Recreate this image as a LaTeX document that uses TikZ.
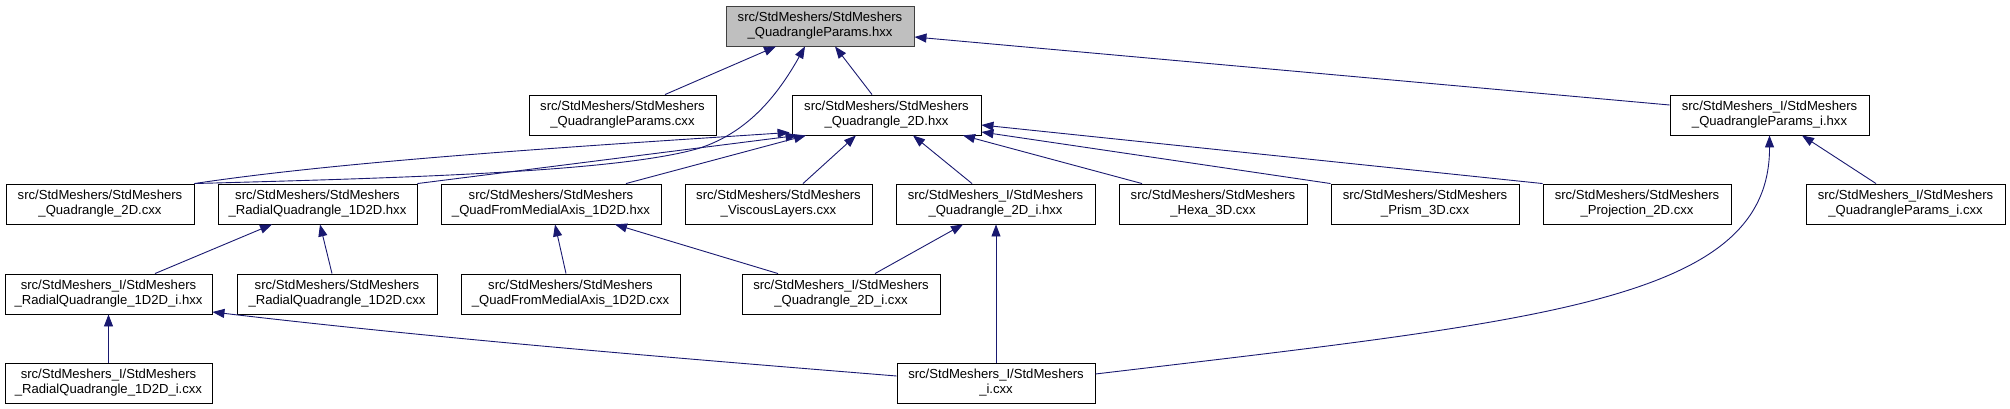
\documentclass[tikz,border=0pt]{standalone}
\usepackage{fontspec}
\setmainfont{Liberation Sans}
\usetikzlibrary{arrows.meta}
\definecolor{edgec}{HTML}{191970}
\definecolor{topfill}{HTML}{BFBFBF}
\definecolor{topdraw}{HTML}{404040}
\begin{document}
\begin{tikzpicture}[x=1pt,y=-1pt,
  box/.style={draw=black, line width=0.9pt, fill=white, minimum height=40pt, inner sep=0pt, align=center, font=\fontsize{13.1pt}{15pt}\selectfont},
  topbox/.style={box, fill=topfill, draw=topdraw},
  edge/.style={draw=edgec, line width=0.9pt, >={Triangle[length=12pt,width=9pt]}, <-}
]
\useasboundingbox (0,0) rectangle (2010,409);
% row 0
\node[topbox, minimum width=188pt] (top) at (820,26) {src/StdMeshers/StdMeshers\\\_QuadrangleParams.hxx};
% row 1
\node[box, minimum width=187pt] (qpcxx) at (622.5,115) {src/StdMeshers/StdMeshers\\\_QuadrangleParams.cxx};
\node[box, minimum width=189pt] (q2dhxx) at (886.5,115) {src/StdMeshers/StdMeshers\\\_Quadrangle\_2D.hxx};
\node[box, minimum width=199pt] (qpihxx) at (1769.5,115) {src/StdMeshers\_I/StdMeshers\\\_QuadrangleParams\_i.hxx};
% row 2
\node[box, minimum width=188pt] (q2dcxx) at (100,204) {src/StdMeshers/StdMeshers\\\_Quadrangle\_2D.cxx};
\node[box, minimum width=199pt] (rqhxx) at (317.5,204) {src/StdMeshers/StdMeshers\\\_RadialQuadrangle\_1D2D.hxx};
\node[box, minimum width=220pt] (qfmhxx) at (551,204) {src/StdMeshers/StdMeshers\\\_QuadFromMedialAxis\_1D2D.hxx};
\node[box, minimum width=187pt] (vlcxx) at (778.5,204) {src/StdMeshers/StdMeshers\\\_ViscousLayers.cxx};
\node[box, minimum width=199pt] (q2dihxx) at (995.5,204) {src/StdMeshers\_I/StdMeshers\\\_Quadrangle\_2D\_i.hxx};
\node[box, minimum width=188pt] (hexa) at (1213,204) {src/StdMeshers/StdMeshers\\\_Hexa\_3D.cxx};
\node[box, minimum width=188pt] (prism) at (1425,204) {src/StdMeshers/StdMeshers\\\_Prism\_3D.cxx};
\node[box, minimum width=188pt] (proj) at (1637,204) {src/StdMeshers/StdMeshers\\\_Projection\_2D.cxx};
\node[box, minimum width=199pt] (qpicxx) at (1905.5,204) {src/StdMeshers\_I/StdMeshers\\\_QuadrangleParams\_i.cxx};
% row 3
\node[box, minimum width=207pt] (rqihxx) at (108.5,294) {src/StdMeshers\_I/StdMeshers\\\_RadialQuadrangle\_1D2D\_i.hxx};
\node[box, minimum width=200pt] (rqcxx) at (337,294) {src/StdMeshers/StdMeshers\\\_RadialQuadrangle\_1D2D.cxx};
\node[box, minimum width=219pt] (qfmcxx) at (570.5,294) {src/StdMeshers/StdMeshers\\\_QuadFromMedialAxis\_1D2D.cxx};
\node[box, minimum width=198pt] (q2dicxx) at (841,294) {src/StdMeshers\_I/StdMeshers\\\_Quadrangle\_2D\_i.cxx};
% row 4
\node[box, minimum width=207pt] (rqicxx) at (108.5,383) {src/StdMeshers\_I/StdMeshers\\\_RadialQuadrangle\_1D2D\_i.cxx};
\node[box, minimum width=198pt] (icxx) at (996,383) {src/StdMeshers\_I/StdMeshers\\\_i.cxx};

% edges into top
\draw[edge] ([xshift=-44pt]top.south) -- ([xshift=42.5pt]qpcxx.north);
\draw[edge] ([xshift=15pt]top.south) -- ([xshift=-14.5pt]q2dhxx.north);
\draw[edge] ([yshift=-11pt]top.east) -- ([yshift=10pt]qpihxx.west);
\draw[edge] ([xshift=-15pt]top.south) .. controls (775,100) and (745,133) .. (700,148)
  .. controls (620,172) and (400,178) .. (q2dcxx.north east);
% edges into Quadrangle_2D.hxx
\draw[edge] ([xshift=-2pt,yshift=3pt]q2dhxx.south west) .. controls (600,145) and (350,160) .. (q2dcxx.north east);
\draw[edge] ([xshift=6pt]q2dhxx.south west) -- (rqhxx.north east);
\draw[edge] ([xshift=-80.5pt]q2dhxx.south) -- ([xshift=75pt]qfmhxx.north);
\draw[edge] ([xshift=-30.5pt]q2dhxx.south) -- ([xshift=24.5pt]vlcxx.north);
\draw[edge] ([xshift=26.5pt]q2dhxx.south) -- ([xshift=-23.5pt]q2dihxx.north);
\draw[edge] ([xshift=76.5pt]q2dhxx.south) -- ([xshift=-71pt]hexa.north);
\draw[edge] ([yshift=-17pt]q2dhxx.east) -- (prism.north west);
\draw[edge] ([yshift=-10pt]q2dhxx.east) -- (proj.north west);
% edges into QuadrangleParams_i.hxx
\draw[edge] ([xshift=32.5pt]qpihxx.south) -- ([xshift=-29.5pt]qpicxx.north);
\draw[edge] (qpihxx.south) .. controls (1770,300) and (1550,320) .. ([yshift=9pt]icxx.east);
% edges into RadialQuadrangle_1D2D.hxx
\draw[edge] ([xshift=-45.5pt]rqhxx.south) -- ([xshift=46.5pt]rqihxx.north);
\draw[edge] ([xshift=2.5pt]rqhxx.south) -- ([xshift=-5pt]rqcxx.north);
% edges into QuadFromMedialAxis_1D2D.hxx
\draw[edge] ([xshift=4pt]qfmhxx.south) -- ([xshift=-4.5pt]qfmcxx.north);
\draw[edge] ([xshift=64pt]qfmhxx.south) -- ([xshift=-63pt]q2dicxx.north);
% edges into Quadrangle_2D_i.hxx
\draw[edge] ([xshift=-32.5pt]q2dihxx.south) -- ([xshift=34pt]q2dicxx.north);
\draw[edge] ([xshift=0.5pt]q2dihxx.south) -- (icxx.north);
% edges into RadialQuadrangle_1D2D_i.hxx
\draw[edge] (rqihxx.south) -- (rqicxx.north);
\draw[edge] ([yshift=-18pt]rqihxx.east) .. controls (450,340) and (700,360) .. ([yshift=7pt]icxx.west);
\end{tikzpicture}
\end{document}
